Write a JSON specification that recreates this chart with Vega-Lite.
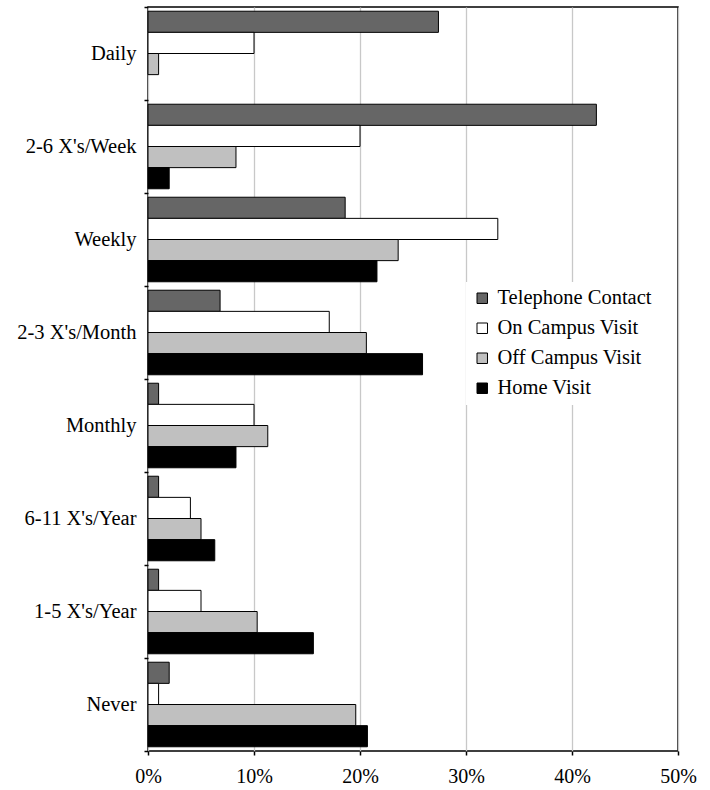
{
  "$schema": "https://vega.github.io/schema/vega-lite/v6.json",
  "autosize": {"type": "none"},
  "padding": {"left": 148, "top": 7, "right": 32, "bottom": 39},
  "width": 530,
  "height": 744,
  "background": "white",
  "config": {
    "font": "Liberation Serif, DejaVu Serif, serif",
    "axis": {"labelFont": "Liberation Serif, DejaVu Serif, serif"},
    "legend": {"labelFont": "Liberation Serif, DejaVu Serif, serif"},
    "view": {"stroke": "#000000", "strokeWidth": 1.5}
  },
  "data": {
    "values": [
      {"freq": "Daily", "type": "Telephone Contact", "pct": 0.274},
      {"freq": "Daily", "type": "On Campus Visit", "pct": 0.10},
      {"freq": "Daily", "type": "Off Campus Visit", "pct": 0.01},
      {"freq": "2-6 X's/Week", "type": "Telephone Contact", "pct": 0.423},
      {"freq": "2-6 X's/Week", "type": "On Campus Visit", "pct": 0.20},
      {"freq": "2-6 X's/Week", "type": "Off Campus Visit", "pct": 0.083},
      {"freq": "2-6 X's/Week", "type": "Home Visit", "pct": 0.02},
      {"freq": "Weekly", "type": "Telephone Contact", "pct": 0.186},
      {"freq": "Weekly", "type": "On Campus Visit", "pct": 0.33},
      {"freq": "Weekly", "type": "Off Campus Visit", "pct": 0.236},
      {"freq": "Weekly", "type": "Home Visit", "pct": 0.216},
      {"freq": "2-3 X's/Month", "type": "Telephone Contact", "pct": 0.068},
      {"freq": "2-3 X's/Month", "type": "On Campus Visit", "pct": 0.171},
      {"freq": "2-3 X's/Month", "type": "Off Campus Visit", "pct": 0.206},
      {"freq": "2-3 X's/Month", "type": "Home Visit", "pct": 0.259},
      {"freq": "Monthly", "type": "Telephone Contact", "pct": 0.01},
      {"freq": "Monthly", "type": "On Campus Visit", "pct": 0.10},
      {"freq": "Monthly", "type": "Off Campus Visit", "pct": 0.113},
      {"freq": "Monthly", "type": "Home Visit", "pct": 0.083},
      {"freq": "6-11 X's/Year", "type": "Telephone Contact", "pct": 0.01},
      {"freq": "6-11 X's/Year", "type": "On Campus Visit", "pct": 0.04},
      {"freq": "6-11 X's/Year", "type": "Off Campus Visit", "pct": 0.05},
      {"freq": "6-11 X's/Year", "type": "Home Visit", "pct": 0.063},
      {"freq": "1-5 X's/Year", "type": "Telephone Contact", "pct": 0.01},
      {"freq": "1-5 X's/Year", "type": "On Campus Visit", "pct": 0.05},
      {"freq": "1-5 X's/Year", "type": "Off Campus Visit", "pct": 0.103},
      {"freq": "1-5 X's/Year", "type": "Home Visit", "pct": 0.156},
      {"freq": "Never", "type": "Telephone Contact", "pct": 0.02},
      {"freq": "Never", "type": "On Campus Visit", "pct": 0.01},
      {"freq": "Never", "type": "Off Campus Visit", "pct": 0.196},
      {"freq": "Never", "type": "Home Visit", "pct": 0.207}
    ]
  },
  "mark": {"type": "bar", "stroke": "#000000", "strokeWidth": 1},
  "encoding": {
    "y": {
      "field": "freq",
      "type": "nominal",
      "sort": ["Daily", "2-6 X's/Week", "Weekly", "2-3 X's/Month", "Monthly", "6-11 X's/Year", "1-5 X's/Year", "Never"],
      "scale": {"paddingInner": 0, "paddingOuter": 0},
      "axis": {
        "title": null,
        "tickBand": "extent",
        "tickSize": 4,
        "tickColor": "#000000",
        "tickWidth": 1.5,
        "domain": false,
        "labelFont": "Liberation Serif",
        "labelFontSize": 20.5,
        "labelColor": "#000000",
        "labelPadding": 8,
        "grid": false
      }
    },
    "yOffset": {
      "field": "type",
      "type": "nominal",
      "scale": {
        "domain": ["Telephone Contact", "On Campus Visit", "Off Campus Visit", "Home Visit"],
        "paddingInner": 0,
        "paddingOuter": 0.2
      }
    },
    "x": {
      "field": "pct",
      "type": "quantitative",
      "scale": {"domain": [0, 0.5], "nice": false},
      "axis": {
        "title": null,
        "format": ".0%",
        "values": [0, 0.1, 0.2, 0.3, 0.4, 0.5],
        "tickSize": 4,
        "tickColor": "#000000",
        "tickWidth": 1.5,
        "domain": false,
        "labelFont": "Liberation Serif",
        "labelFontSize": 20,
        "labelColor": "#000000",
        "labelPadding": 11,
        "labelFlush": false,
        "grid": true,
        "gridColor": "#c8c8c8",
        "gridWidth": 1.3
      }
    },
    "color": {
      "field": "type",
      "type": "nominal",
      "scale": {
        "domain": ["Telephone Contact", "On Campus Visit", "Off Campus Visit", "Home Visit"],
        "range": ["#666666", "#ffffff", "#c0c0c0", "#000000"]
      },
      "legend": {
        "title": null,
        "orient": "none",
        "legendX": 318,
        "legendY": 275,
        "fillColor": "#ffffff",
        "padding": 6,
        "symbolType": "square",
        "symbolSize": 110,
        "symbolStrokeColor": "#000000",
        "symbolStrokeWidth": 1,
        "symbolOpacity": 1,
        "labelFont": "Liberation Serif",
        "labelFontSize": 20.5,
        "labelColor": "#000000",
        "labelOffset": 5,
        "rowPadding": 9,
        "labelLimit": 300
      }
    },
    "opacity": {"value": 1}
  }
}
